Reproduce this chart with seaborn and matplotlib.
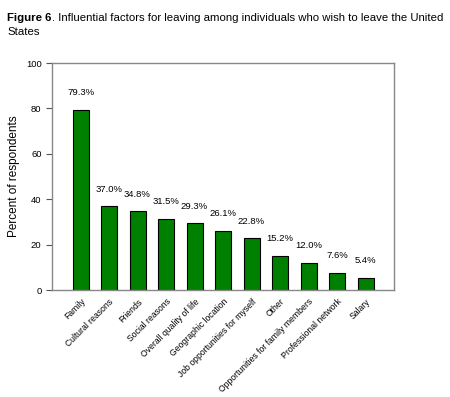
import matplotlib
matplotlib.use("Agg")
from matplotlib import pyplot as plt
import pandas as pd
import seaborn as sns

factors = ["Family", "Cultural reasons", "Friends", "Social reasons",
           "Overall quality of life", "Geographic location",
           "Job opportunities for myself", "Other",
           "Opportunities for family members", "Professional network", "Salary"]
percent = [79.3, 37.0, 34.8, 31.5, 29.3, 26.1, 22.8, 15.2, 12.0, 7.6, 5.4]
yticks = [0, 20, 40, 60, 80, 100]

df = pd.DataFrame({"factor": factors, "percent": percent})

sns.set_style("ticks")
plt.rcParams["font.family"] = ["Liberation Sans", "DejaVu Sans"]
plt.rcParams["text.color"] = "black"
plt.rcParams["xtick.color"] = "black"
plt.rcParams["ytick.color"] = "black"
plt.rcParams["axes.labelcolor"] = "black"

fig = plt.figure(figsize=(4.5, 3.97), dpi=100)
ax = fig.add_axes([0.1156, 0.2695, 0.76, 0.5718])
sns.barplot(data=df, x="factor", y="percent", color="#008000", saturation=1,
            width=0.56, edgecolor="black", linewidth=0.8, ax=ax)

for i, v in enumerate(percent):
    ax.annotate(f"{v:.1f}%", (i, v), xytext=(0, 9), textcoords="offset points",
                ha="center", va="bottom", fontsize=6.8)

ax.set_xlim(-1, 11)
ax.set_ylim(0, 100)
ax.set_yticks(yticks)
ax.tick_params(axis="y", labelsize=6.8, length=4, width=0.8, color="#555555")
ax.tick_params(axis="x", bottom=False, labelsize=6.2, pad=1.5)
ax.set_xticks(range(len(factors)))
ax.set_xticklabels(factors, rotation=45, ha="right", rotation_mode="anchor")
ax.set_xlabel("")
ax.set_ylabel("Percent of respondents", fontsize=8.5, labelpad=4)
for s in ax.spines.values():
    s.set_visible(True)
    s.set_color("#888888")
    s.set_linewidth(1.0)

t1 = fig.text(0.016, 0.967, "Figure 6", fontsize=8.2, fontweight="bold", va="top")
fig.canvas.draw()
bb = t1.get_window_extent()
x2 = bb.x1 / fig.bbox.width
fig.text(x2, 0.967, ". Influential factors for leaving among individuals who wish to leave the United",
         fontsize=8.2, va="top")
fig.text(0.016, 0.932, "States", fontsize=8.2, va="top")

fig.savefig("out.png", dpi=100)
